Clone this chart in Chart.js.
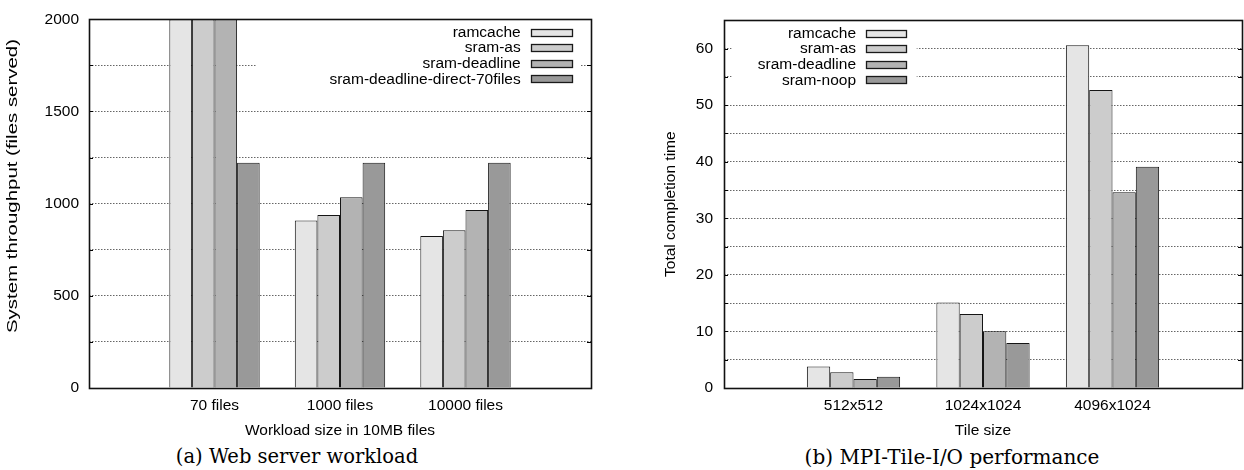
<!DOCTYPE html>
<html><head><meta charset="utf-8">
<script src="https://cdn.jsdelivr.net/npm/chart.js@4.4.1/dist/chart.umd.min.js"></script>
<style>
html,body{margin:0;padding:0;background:#fff;}
body{width:1244px;height:470px;position:relative;overflow:hidden}
.wrap{position:absolute;top:0;height:440px}
.cap{position:absolute;top:444px;font-family:'DejaVu Serif',serif;font-size:19.5px;white-space:nowrap;transform:translateX(-50%);color:#000;line-height:26px}
</style></head><body>
<div class="wrap" style="left:0;width:620px"><canvas id="c1"></canvas></div>
<div class="wrap" style="left:620px;width:624px"><canvas id="c2"></canvas></div>
<div class="cap" style="left:297px">(a) Web server workload</div>
<div class="cap" style="left:952px;font-size:20px">(b) MPI-Tile-I/O performance</div>
<script>
// ---- data: web server workload ----
const webCategories = ['70 files', '1000 files', '10000 files'];
const webSeriesNames = ['ramcache', 'sram-as', 'sram-deadline', 'sram-deadline-direct-70files'];
const webRamcache = [2000, 909, 824];
const webSramAs = [2000, 938, 856];
const webSramDeadline = [2000, 1035, 966];
const webSramDirect70 = [1222, 1222, 1222];
const webYLabels = [0, 500, 1000, 1500, 2000];

// ---- data: MPI-Tile-I/O ----
const tileCategories = ['512x512', '1024x1024', '4096x1024'];
const tileSeriesNames = ['ramcache', 'sram-as', 'sram-deadline', 'sram-noop'];
const tileRamcache = [3.8, 15.1, 60.6];
const tileSramAs = [2.8, 13.1, 52.7];
const tileSramDeadline = [1.6, 10.05, 34.6];
const tileSramNoop = [2.0, 7.95, 39.1];
const tileYLabels = [0, 10, 20, 30, 40, 50, 60];

const fills = ['#e5e5e5', '#cccccc', '#b3b3b3', '#999999'];
const FONT = "'Liberation Sans', Arial, sans-serif";

Chart.defaults.font.family = FONT;
Chart.defaults.font.size = 15.5;
Chart.defaults.color = '#000';

function makeDatasets(names, series) {
  return names.map((n, i) => ({
    label: n,
    data: [null, ...series[i], null],
    backgroundColor: fills[i],
    borderColor: '#151515',
    borderWidth: 1,
    borderSkipped: 'start',
    categoryPercentage: 0.72,
    barPercentage: 1
  }));
}

const keyPlugin = {
  id: 'gnuKey',
  afterDatasetsDraw(chart, args, o) {
    const {ctx, chartArea: a} = chart;
    ctx.save();
    ctx.fillStyle = '#fff';
    ctx.fillRect(a.left + o.clear0, a.top + 2, o.clear1 - o.clear0, 68);
    ctx.font = "15.5px " + FONT;
    ctx.textAlign = 'right';
    ctx.textBaseline = 'middle';
    chart.data.datasets.forEach((ds, i) => {
      const cy = a.top + o.row0 + i * o.rowStep;
      ctx.fillStyle = '#000';
      ctx.fillText(ds.label, a.left + o.textRight, cy);
      ctx.fillStyle = ds.backgroundColor;
      const bx = Math.round(a.left + o.boxLeft) + 0.5, by = Math.round(cy - 4) + 0.5;
      ctx.fillRect(bx, by, o.boxW, 7);
      ctx.strokeStyle = '#1a1a1a';
      ctx.lineWidth = 1.3;
      ctx.strokeRect(bx, by, o.boxW, 7);
    });
    ctx.restore();
  }
};

const framePlugin = {
  id: 'gnuFrame',
  afterDraw(chart) {
    const {ctx, chartArea: a, scales: {y}} = chart;
    ctx.save();
    ctx.strokeStyle = '#000';
    ctx.lineWidth = 1;
    y.ticks.forEach(t => {
      const py = Math.round(y.getPixelForValue(t.value)) + 0.5;
      ctx.beginPath();
      ctx.moveTo(a.left, py); ctx.lineTo(a.left + 4, py);
      ctx.moveTo(a.right, py); ctx.lineTo(a.right - 4, py);
      ctx.stroke();
    });
    ctx.lineWidth = 1.6;
    ctx.strokeStyle = '#111';
    ctx.strokeRect(Math.round(a.left) + 0.5, Math.round(a.top) + 0.5, Math.round(a.right - a.left), Math.round(a.bottom - a.top));
    ctx.restore();
  }
};

// y-axis title drawn rotated and stretched along its length (the reference label is elongated)
const yTitlePlugin = {
  id: 'yTitle',
  afterDraw(chart, args, o) {
    if (!o || !o.text) return;
    const ctx = chart.ctx;
    ctx.save();
    ctx.font = o.size + 'px ' + FONT;
    const w = ctx.measureText(o.text).width;
    ctx.translate(o.x, o.cy);
    ctx.rotate(-Math.PI / 2);
    ctx.scale(o.length / w, 1);
    ctx.textAlign = 'center';
    ctx.textBaseline = 'middle';
    ctx.fillStyle = '#000';
    ctx.fillText(o.text, 0, 0);
    ctx.restore();
  }
};

function makeChart(id, cats, names, series, cfg) {
  return new Chart(document.getElementById(id), {
    type: 'bar',
    data: { labels: ['', ...cats, ''], datasets: makeDatasets(names, series) },
    options: {
      responsive: true,
      maintainAspectRatio: false,
      animation: false,
      layout: { padding: cfg.padding },
      plugins: { legend: { display: false }, tooltip: { enabled: false }, gnuKey: cfg.key, yTitle: cfg.yTitleDraw || {} },
      scales: {
        x: {
          type: 'category',
          offset: false,
          grid: { display: false },
          border: { display: false },
          ticks: { autoSkip: false, maxRotation: 0, minRotation: 0, padding: 0, color: '#000' },
          title: { display: true, text: cfg.xTitle, color: '#000', padding: { top: 0, bottom: 0 } },
          afterFit: s => { s.height = 52; }
        },
        y: {
          min: 0, max: cfg.yMax,
          grid: { color: '#666', lineWidth: 1, drawTicks: false },
          border: { display: false, dash: [1.5, 1.5] },
          ticks: {
            stepSize: cfg.step, padding: cfg.tickPad, color: '#000', autoSkip: false,
            callback: v => cfg.labels.includes(v) ? String(v) : ''
          },
          title: { display: !cfg.yTitleDraw, text: cfg.yTitle, color: '#000',
                   padding: { top: cfg.yTitlePad, bottom: 0 } },
          afterFit: s => { s.width = cfg.yWidth; }
        }
      }
    },
    plugins: [keyPlugin, framePlugin, yTitlePlugin]
  });
}

makeChart('c1', webCategories, webSeriesNames,
  [webRamcache, webSramAs, webSramDeadline, webSramDirect70], {
    padding: { left: 0, right: 29, top: 16, bottom: 0 },
    yMax: 2000, step: 250, labels: webYLabels, tickPad: 10, yWidth: 89, yTitlePad: 2,
    xTitle: 'Workload size in 10MB files', yTitle: 'System throughput (files served)',
    yTitleDraw: { text: 'System throughput (files served)', size: 15.5, x: 12.5, cy: 186, length: 294 },
    key: { clear0: 167, clear1: 492, row0: 13.3, rowStep: 15.6, textRight: 431.7, boxLeft: 442, boxW: 41 }
  });

makeChart('c2', tileCategories, tileSeriesNames,
  [tileRamcache, tileSramAs, tileSramDeadline, tileSramNoop], {
    padding: { left: 41, right: 2, top: 16, bottom: 0 },
    yMax: 65, step: 5, labels: tileYLabels, tickPad: 11, yWidth: 63, yTitlePad: 0,
    xTitle: 'Tile size', yTitle: 'Total completion time',
    key: { clear0: 7.7, clear1: 192.7, row0: 13.3, rowStep: 15.6, textRight: 132, boxLeft: 142.3, boxW: 40 }
  });
</script>
</body></html>
